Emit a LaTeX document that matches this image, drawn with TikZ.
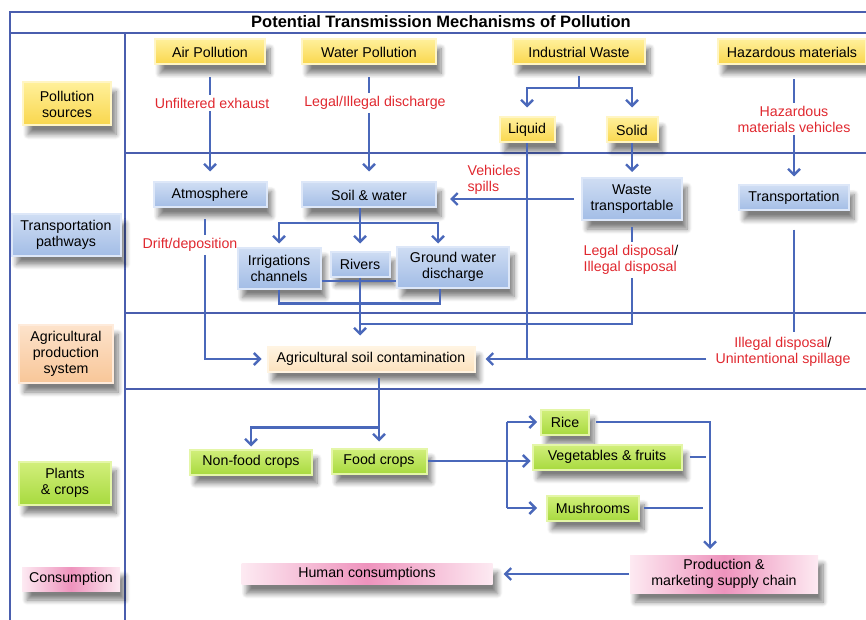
\documentclass[tikz,border=0pt]{standalone}
\usepackage{fontspec}
\setmainfont{Liberation Sans}
\usepackage{tikz}
\usetikzlibrary{arrows.meta, shadows.blur}

\definecolor{framecol}{HTML}{4A5EAE}
\definecolor{wirecol}{HTML}{4A68BA}
\definecolor{labred}{HTML}{E0282F}
\definecolor{ytop}{HTML}{FFF09A}
\definecolor{ybot}{HTML}{F9D64C}
\definecolor{yedge}{HTML}{FFF5C4}
\definecolor{btop}{HTML}{CFDDF3}
\definecolor{bbot}{HTML}{A3BDE6}
\definecolor{bedge}{HTML}{DDE7F8}
\definecolor{ptop}{HTML}{FDE3CB}
\definecolor{pbot}{HTML}{F8C698}
\definecolor{pedge}{HTML}{FEEBDB}
\definecolor{ctop}{HTML}{FFF4E2}
\definecolor{cbot}{HTML}{FCE2BE}
\definecolor{gtop}{HTML}{D2EF7C}
\definecolor{gbot}{HTML}{A8DA3F}
\definecolor{gedge}{HTML}{E4F6A8}
\definecolor{kside}{HTML}{FDEAF2}
\definecolor{kmid}{HTML}{EE93BD}

\tikzset{
  box/.style={align=center, inner sep=1pt, line width=2pt,
    font=\fontsize{14.2}{16}\selectfont,
    blur shadow={shadow xshift=5pt, shadow yshift=-9pt, shadow blur radius=5pt,
      shadow blur steps=8, shadow opacity=50}},
  ybox/.style={box, draw=yedge, top color=ytop, bottom color=ybot},
  bbox/.style={box, draw=bedge, top color=btop, bottom color=bbot},
  pbox/.style={box, draw=pedge, top color=ptop, bottom color=pbot},
  cbox/.style={box, draw=ctop, top color=ctop, bottom color=cbot},
  gbox/.style={box, draw=gedge, top color=gtop, bottom color=gbot},
  kbox/.style={box, left color=kside, right color=kside, middle color=kmid},
  lab/.style={text=labred, align=center, inner sep=3pt, font=\fontsize{14.2}{16}\selectfont},
  frame/.style={draw=framecol, line width=1.6pt},
  wire/.style={draw=wirecol, line width=2.4pt},
  arr/.style={wire, -{Straight Barb[length=6pt,width=12pt]}},
}

\begin{document}
\begin{tikzpicture}[x=1pt, y=-1pt]
\useasboundingbox (0,0) rectangle (866,620);

% frame
\draw[frame] (10,620) -- (10,12) -- (866,12);
\draw[frame] (10,33) -- (866,33);
\draw[frame] (125,33) -- (125,620);
\foreach \y in {153,313,389}
	\draw[frame] (125,\y) -- (866,\y);
\node[font=\fontsize{16.5}{18}\selectfont\bfseries] (title) at (441,22) {Potential Transmission Mechanisms of Pollution};

% row headers
\node[ybox, minimum width=88pt, minimum height=43pt] (src) at (67,104) {Pollution\\sources};
\node[bbox, minimum width=109pt, minimum height=41pt] (trn) at (66,235) {Transportation\\pathways};
\node[pbox, minimum width=94pt, minimum height=58pt] (agr) at (66,354) {Agricultural\\production\\system};
\node[gbox, minimum width=92pt, minimum height=43pt] (pla) at (65,483) {Plants\\\& crops};
\node[kbox, minimum width=98pt, minimum height=24pt] (con) at (71,579) {Consumption};

% sources
\node[ybox, minimum width=110pt, minimum height=25pt] (air) at (210,52) {Air Pollution};
\node[ybox, minimum width=134pt, minimum height=25pt] (water) at (369,52) {Water Pollution};
\node[ybox, minimum width=132pt, minimum height=25pt] (indw) at (579,52) {Industrial Waste};
\node[ybox, minimum width=148pt, minimum height=25pt] (haz) at (792,52) {Hazardous materials};
\node[ybox, minimum width=55pt, minimum height=25pt] (liquid) at (527,130) {Liquid};
\node[ybox, minimum width=51pt, minimum height=25pt] (solid) at (632,130) {Solid};

% pathways
\node[bbox, minimum width=113pt, minimum height=25pt] (atm) at (210,195) {Atmosphere};
\node[bbox, minimum width=134pt, minimum height=25pt] (soil) at (369,195) {Soil \& water};
\node[bbox, minimum width=100pt, minimum height=42pt] (waste) at (632,199) {Waste\\transportable};
\node[bbox, minimum width=110pt, minimum height=25pt] (transp) at (794,198) {Transportation};
\node[bbox, minimum width=83pt, minimum height=41pt] (irr) at (279,268) {Irrigations\\channels};
\node[bbox, minimum width=59pt, minimum height=25pt] (riv) at (360,264) {Rivers};
\node[bbox, minimum width=112pt, minimum height=41pt] (gw) at (453,267) {Ground water\\discharge};

% production, crops, consumption
\node[cbox, minimum width=207pt, minimum height=25pt] (asc) at (371,359) {Agricultural soil contamination};
\node[gbox, minimum width=122pt, minimum height=25pt] (nfc) at (251,462) {Non-food crops};
\node[gbox, minimum width=95pt, minimum height=25pt] (fc) at (379,461) {Food crops};
\node[gbox, minimum width=48pt, minimum height=25pt] (rice) at (565,422) {Rice};
\node[gbox, minimum width=149pt, minimum height=25pt] (veg) at (607,457) {Vegetables \& fruits};
\node[gbox, minimum width=92pt, minimum height=25pt] (mush) at (593,508) {Mushrooms};
\node[kbox, minimum width=188pt, minimum height=38pt] (prod) at (724,574) {Production \&\\marketing supply chain};
\node[kbox, minimum width=251pt, minimum height=21pt] (hum) at (367,574) {Human consumptions};

% red labels
\node[lab] (lunf) at (212,103) {Unfiltered exhaust};
\node[lab] (lleg) at (375,103) {Legal/Illegal discharge};
\node[lab] (lhaz) at (794,119) {Hazardous\\materials vehicles};
\node[lab, align=left] (lveh) at (494,180) {Vehicles\\spills};
\node[lab] (ldrift) at (190,245) {Drift/deposition};
\node[lab, align=left] (ldisp) at (631,260) {Legal disposal\textcolor{black}{/}\\Illegal disposal};
\node[lab] (lill) at (783,352) {Illegal disposal\textcolor{black}{/}\\Unintentional spillage};

\coordinate (iwj) at (579,88);
\coordinate (swj) at (360,223);
\coordinate (mrg) at (360,324);
\coordinate (cbr) at (507,0);
\coordinate (pcol) at (710,0);

% sources to pathways
\draw[wire, shorten <=12pt] (air.south) -- (air.south |- lunf.north);
\draw[arr, shorten >=10pt] (air.south |- lunf.south) -- (atm.north);
\draw[wire, shorten <=12pt] (water.south) -- (water.south |- lleg.north);
\draw[arr, shorten >=10pt] (water.south |- lleg.south) -- (soil.north);
\draw[wire, shorten <=11pt] (indw.south) -- (iwj);
\draw[arr, shorten >=9pt] (iwj) -| (liquid.north);
\draw[arr, shorten >=9pt] (iwj) -| (solid.north);
\draw[wire, shorten <=14pt] (haz.south -| transp) -- (lhaz.north -| transp);
\draw[arr, shorten >=8pt] (lhaz.south -| transp) -- (transp.north);

% pathways
\draw[arr, shorten >=5pt] (solid.south) -- (waste.north);
\draw[arr, shorten <=7pt, shorten >=13pt] (waste.west) -- (waste.west -| soil.east);
\draw[wire] (soil.south -| swj) -- (swj);
\draw[arr, shorten >=3pt] (swj) -| (irr.north);
\draw[arr, shorten >=7pt] (swj) -- (riv.north);
\draw[arr, shorten >=2pt] (swj) -| ([xshift=-15pt]gw.north);
\draw[wire] ([yshift=-13pt]irr.east) -- ([yshift=-13pt]irr.east -| gw.west);
\draw[wire] (irr.south) -- ++(0,14) -| ([xshift=-13pt]gw.south);
\draw[wire, shorten <=11pt] ([xshift=-5pt]atm.south) -- ([xshift=-5pt]atm.south |- ldrift.north);
\draw[arr, shorten >=5pt] ([xshift=-5pt]atm.south |- ldrift.south) |- (asc.west);
\draw[wire, shorten <=6pt] (waste.south) -- (waste.south |- ldisp.north);
\draw[wire] (waste.south |- ldisp.south) |- (mrg);
\draw[arr, shorten >=10pt] (riv.south) -- (riv.south |- asc.north);
\draw[wire] (liquid.south) -- (liquid.south |- asc.east);
\draw[wire, shorten <=18pt, shorten >=2pt] (transp.south) -- (transp.south |- lill.north);
\draw[arr, shorten <=6pt, shorten >=10pt] (lill.west |- asc.east) -- (asc.east);

% crops
\draw[arr, shorten <=5pt, shorten >=6pt] (asc.south -| fc) -- (fc.north);
\draw[arr, shorten >=2pt] (asc.south -| fc) ++(0,55) -| (nfc.north);
\draw[arr, shorten >=1pt] (fc.east) -- (fc.east -| veg.west);
\draw[wire] (rice.west -| cbr) -- (mush.west -| cbr);
\draw[arr, shorten >=3pt] (rice.west -| cbr) -- (rice.west);
\draw[arr, shorten >=9pt] (mush.west -| cbr) -- (mush.west);
\draw[arr, shorten <=6pt, shorten >=5pt] (rice.east) -| (pcol |- prod.north);
\draw[wire, shorten <=7pt, shorten >=4pt] (veg.east) -- (veg.east -| pcol);
\draw[wire, shorten <=4pt, shorten >=7pt] (mush.east) -- (mush.east -| pcol);
\draw[arr, shorten >=10pt] (prod.west) -- (hum.east);

\end{tikzpicture}
\end{document}
